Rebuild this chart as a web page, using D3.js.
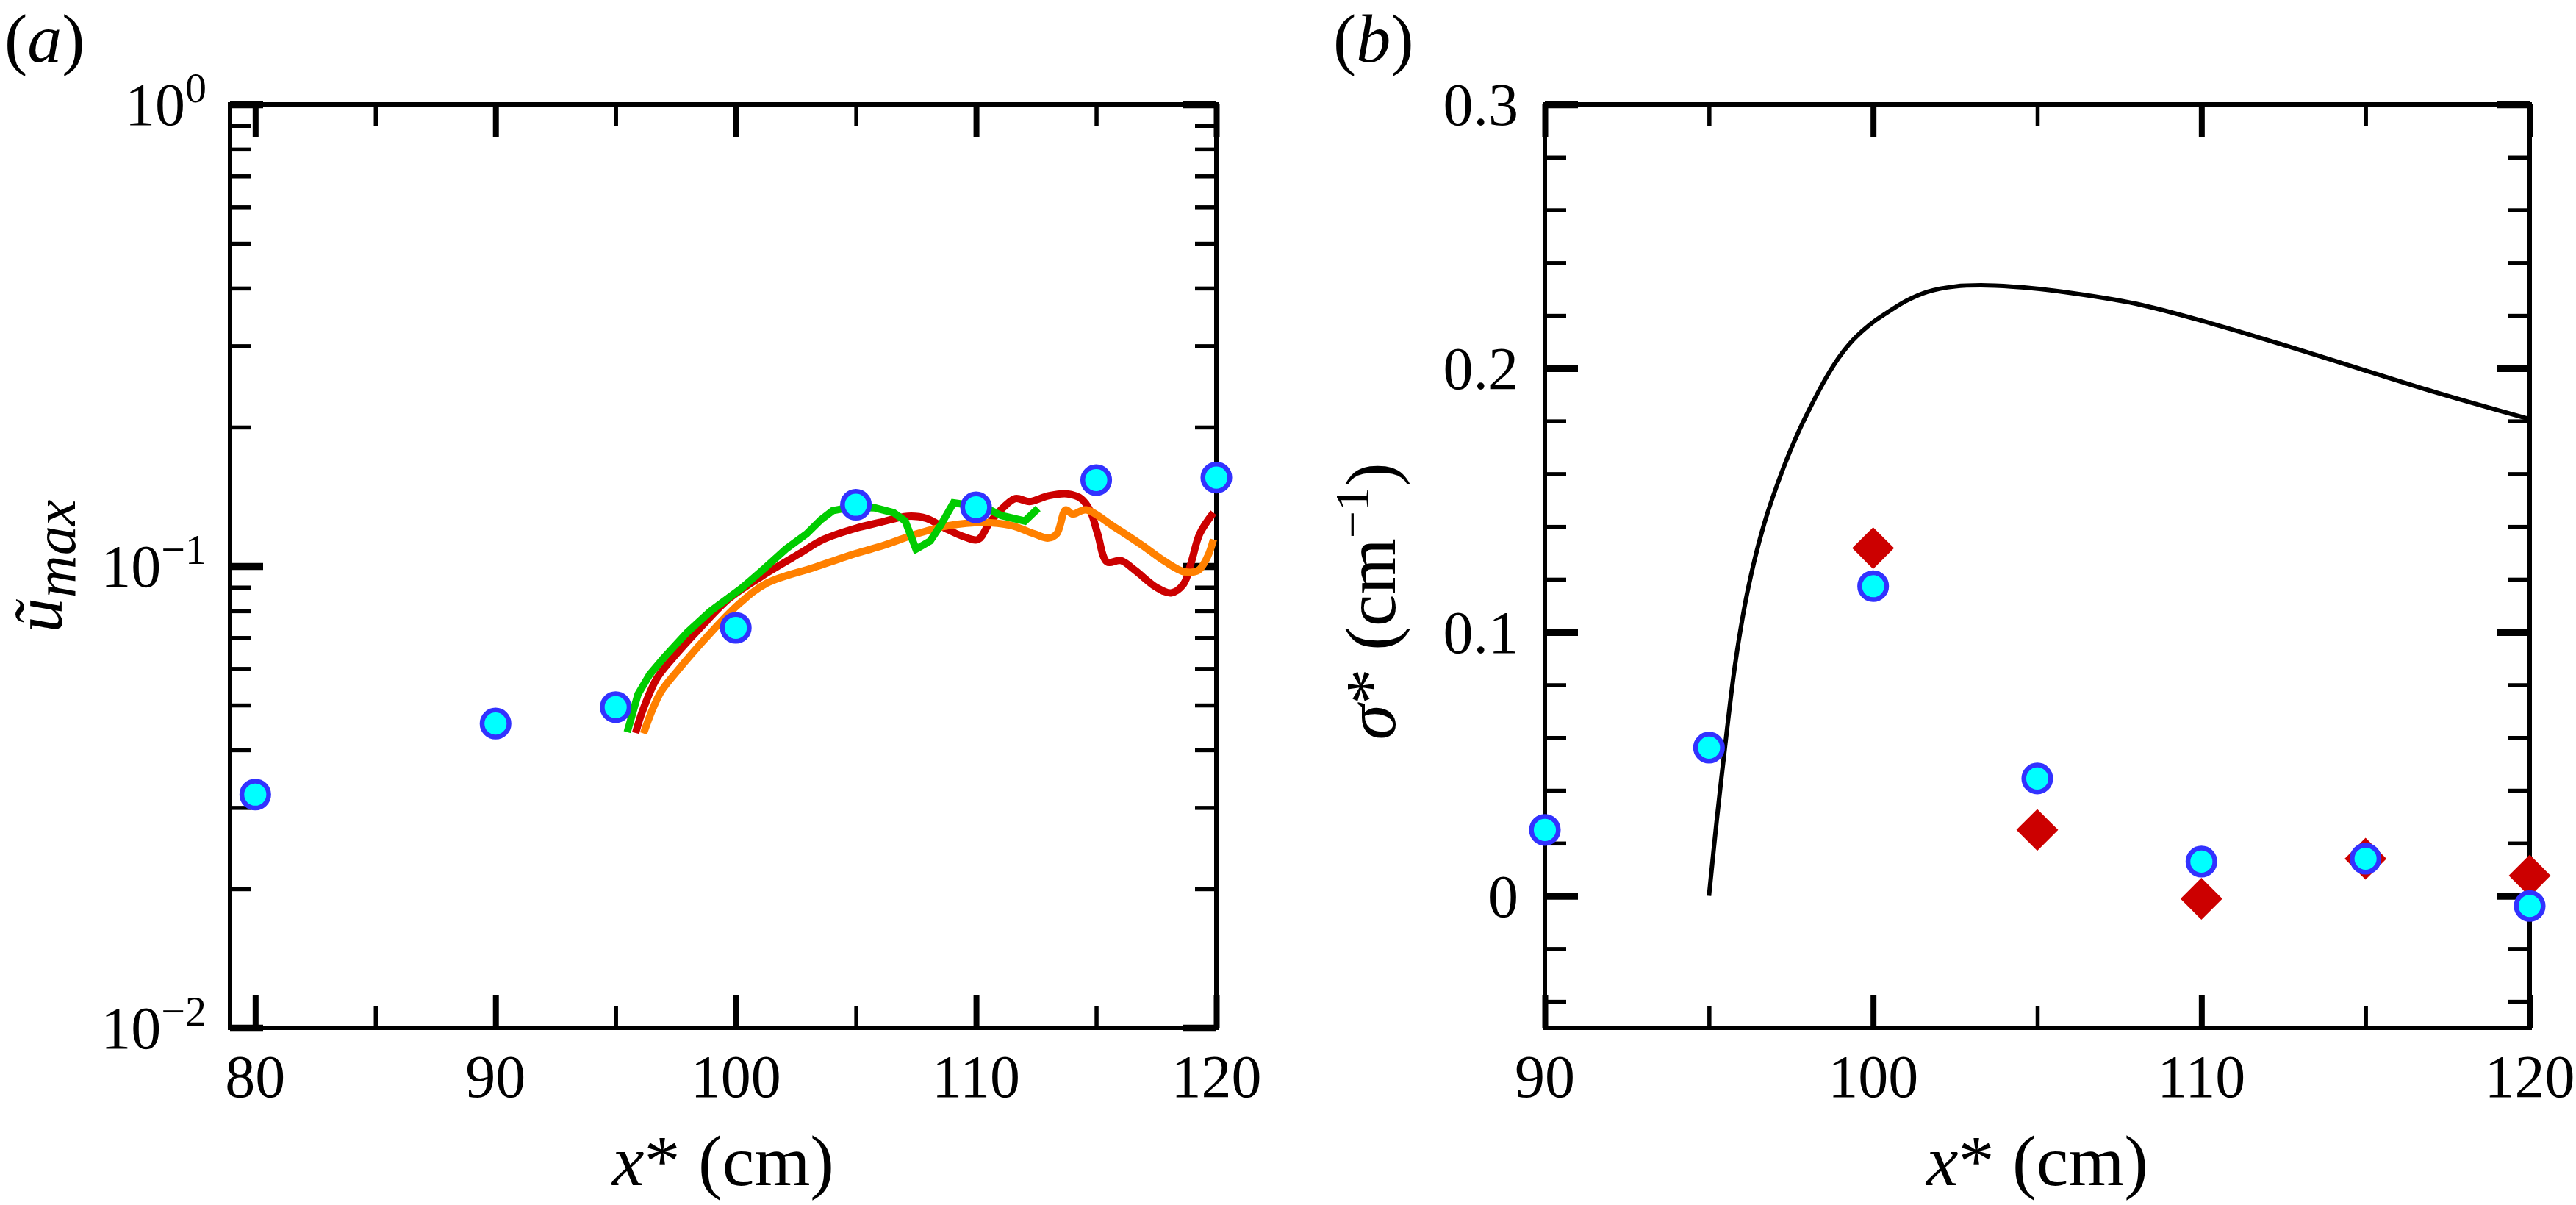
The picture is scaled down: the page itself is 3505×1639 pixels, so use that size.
<!DOCTYPE html>
<html><head><meta charset="utf-8">
<script src="https://cdn.jsdelivr.net/npm/d3@7"></script>
<style>
body{margin:0;background:#fff}
svg{display:block}
text{font-family:"Liberation Serif","Times New Roman",Times,serif;fill:#000}
</style>
</head><body>
<svg id="chart" width="3505" height="1639"></svg>
<script>
// ---------------- Panel (a) data ----------------
const stationXA = [80, 90, 95, 100, 105, 110, 115, 120];
const umaxMeasured = [0.0320, 0.0456, 0.0495, 0.0735, 0.1358, 0.1341, 0.1536, 0.1555];

const greenX = [95.48,95.93,96.42,97.00,97.98,98.95,100.22,101.10,102.08,102.95,103.54,104.03,104.81,105.79,106.57,107.05,107.50,108.09,108.52,109.06,109.88,110.57,111.05,112.03,112.58];
const greenY = [0.0437,0.0528,0.0583,0.0633,0.0719,0.0799,0.0894,0.0979,0.1088,0.1175,0.1260,0.1318,0.1342,0.1337,0.1305,0.1252,0.1088,0.1134,0.1225,0.1371,0.1352,0.1324,0.1287,0.1252,0.1333];

const redX = [95.83,96.12,96.71,97.39,98.56,99.73,101.10,102.66,103.64,105.00,105.98,107.15,107.93,108.71,109.49,110.08,110.57,111.15,111.64,112.23,113.01,113.79,114.37,114.76,115.06,115.45,116.03,116.62,117.50,118.12,118.63,118.96,119.31,119.88];
const redY = [0.0435,0.0486,0.0571,0.0633,0.0739,0.0851,0.0952,0.1065,0.1142,0.1208,0.1243,0.1282,0.1269,0.1208,0.1158,0.1142,0.1243,0.1342,0.1400,0.1380,0.1420,0.1434,0.1400,0.1314,0.1175,0.1021,0.1028,0.0979,0.0900,0.0875,0.0913,0.1021,0.1175,0.1305];

const orangeX = [96.16,96.51,96.90,97.59,98.76,100.12,101.30,103.25,105.00,106.18,107.54,108.91,110.27,111.45,112.42,113.01,113.36,113.73,114.02,114.57,115.74,116.91,117.89,118.67,119.25,119.64,119.88];
const orangeY = [0.0434,0.0486,0.0536,0.0595,0.0699,0.0827,0.0919,0.0993,0.1065,0.1110,0.1175,0.1225,0.1243,0.1225,0.1175,0.1150,0.1175,0.1324,0.1296,0.1324,0.1217,0.1110,0.1021,0.0972,0.0979,0.1050,0.1142];

const xMajorA = [80, 90, 100, 110, 120];
const xMinorA = [85, 95, 105, 115];
const xLabelsA = ["80", "90", "100", "110", "120"];
const yMajorA = [0.01, 0.1, 1];
const yMinorA = [0.02,0.03,0.04,0.05,0.06,0.07,0.08,0.09,0.2,0.3,0.4,0.5,0.6,0.7,0.8,0.9];
const yLabelExpA = ["\u22122", "\u22121", "0"];

// ---------------- Panel (b) data ----------------
const stationXB = [90, 95, 100, 105, 110, 115, 120];
const sigmaCircle = [0.025, 0.0562, 0.1174, 0.0445, 0.0130, 0.0141, -0.0038];
const diamondX = [100, 105, 110, 115, 120];
const sigmaDiamond = [0.1318, 0.0250, -0.0011, 0.0141, 0.0077];

const theoryX = [95.0,95.23,95.52,95.81,96.2,96.68,97.26,97.73,98.0,98.41,98.79,99.1,99.47,100.0,100.38,101.0,101.66,102.5,103.48,104.6,105.75,108.02,110.29,112.56,114.83,117.1,120.0];
const theoryY = [0.0,0.028,0.060,0.089,0.117,0.141,0.162,0.176,0.183,0.1929,0.2010,0.2065,0.2118,0.2175,0.2207,0.2255,0.2290,0.2310,0.2314,0.2306,0.2290,0.2244,0.2170,0.2086,0.1998,0.1910,0.1807];

const xMajorB = [90, 100, 110, 120];
const xMinorB = [95, 105, 115];
const xLabelsB = ["90", "100", "110", "120"];
const yMajorB = [0, 0.1, 0.2, 0.3];
const yLabelsB = ["0", "0.1", "0.2", "0.3"];
const yMinorB = [-0.04,-0.02,0.02,0.04,0.06,0.08,0.12,0.14,0.16,0.18,0.22,0.24,0.26,0.28];

// ---------------- Drawing ----------------
const FONT = '"Liberation Serif","Times New Roman",Times,serif';
const svg = d3.select("#chart").attr("font-family", FONT);
const TOP = 142, BOTTOM = 1398;
const TICK_FS = 82;

function drawTicks(g, scale, orient, pos, values, len, width) {
  const gen = {bottom: d3.axisBottom, top: d3.axisTop, left: d3.axisLeft, right: d3.axisRight}[orient];
  const ax = gen(scale).tickValues(values).tickSize(-len).tickSizeOuter(0).tickFormat("");
  const horiz = orient === "bottom" || orient === "top";
  const a = g.append("g")
    .attr("transform", horiz ? `translate(0,${pos})` : `translate(${pos},0)`)
    .call(ax);
  a.select(".domain").remove();
  a.selectAll(".tick text").remove();
  a.selectAll(".tick line").attr("stroke", "#000").attr("stroke-width", width);
}

function frame(g, x, y, xMaj, xMin, yMaj, yMin) {
  const [x0, x1] = x.range();
  const [y0, y1] = y.range(); // y0 bottom, y1 top
  drawTicks(g, x, "bottom", y0, xMaj, 45, 8);
  drawTicks(g, x, "top", y1, xMaj, 45, 8);
  drawTicks(g, x, "bottom", y0, xMin, 29, 5.5);
  drawTicks(g, x, "top", y1, xMin, 29, 5.5);
  drawTicks(g, y, "left", x0, yMaj, 45, 9.5);
  drawTicks(g, y, "right", x1, yMaj, 45, 9.5);
  drawTicks(g, y, "left", x0, yMin, 29, 5.5);
  drawTicks(g, y, "right", x1, yMin, 29, 5.5);
  g.append("rect").attr("x", x0).attr("y", y1).attr("width", x1 - x0).attr("height", y0 - y1)
    .attr("fill", "none").attr("stroke", "#000").attr("stroke-width", 6);
}

function circles(g, xs, ys, x, y) {
  g.append("g").selectAll("circle").data(xs).join("circle")
    .attr("cx", (d) => x(d)).attr("cy", (d, i) => y(ys[i]))
    .attr("r", 18.3).attr("fill", "#00ffff").attr("stroke", "#3232ff").attr("stroke-width", 6.5);
}

// ---- Panel (a) ----
const xA = d3.scaleLinear().domain([78.95, 120]).range([313, 1655]);
const yA = d3.scaleLog().domain([0.01, 1]).range([BOTTOM, TOP]);
const gA = svg.append("g");
frame(gA, xA, yA, xMajorA, xMinorA, yMajorA, yMinorA);

const lineA = (xs, ys, curve) => d3.line().x((d) => xA(d)).y((d, i) => yA(ys[i])).curve(curve)(xs);
gA.append("path").attr("d", lineA(redX, redY, d3.curveCatmullRom.alpha(0.5)))
  .attr("fill", "none").attr("stroke", "#cc0000").attr("stroke-width", 10).attr("stroke-linejoin", "round");
gA.append("path").attr("d", lineA(orangeX, orangeY, d3.curveCatmullRom.alpha(0.5)))
  .attr("fill", "none").attr("stroke", "#ff8000").attr("stroke-width", 10).attr("stroke-linejoin", "round");
gA.append("path").attr("d", lineA(greenX, greenY, d3.curveLinear))
  .attr("fill", "none").attr("stroke", "#00cc00").attr("stroke-width", 10).attr("stroke-linejoin", "miter");
circles(gA, stationXA, umaxMeasured, xA, yA);

// x tick labels
gA.append("g").selectAll("text").data(xMajorA).join("text")
  .attr("x", (d) => xA(d)).attr("y", 1492).attr("text-anchor", "middle")
  .attr("font-size", TICK_FS).text((d, i) => xLabelsA[i]);
// y tick labels 10^k
const yl = gA.append("g").selectAll("text").data(yMajorA).join("text")
  .attr("x", 281).attr("y", (d) => yA(d) + 28).attr("text-anchor", "end").attr("font-size", TICK_FS);
yl.append("tspan").text("10");
yl.append("tspan").attr("font-size", 58).attr("dy", -31).text((d, i) => yLabelExpA[i]);

// axis labels
const xlabA = gA.append("text").attr("x", (xA.range()[0] + xA.range()[1]) / 2).attr("y", 1612)
  .attr("text-anchor", "middle").attr("font-size", 98);
xlabA.append("tspan").attr("font-style", "italic").text("x");
xlabA.append("tspan").text("* (cm)");

const ylabA = gA.append("text").attr("transform", `translate(84,${(TOP + BOTTOM) / 2}) rotate(-90)`)
  .attr("text-anchor", "middle").attr("font-size", 94).attr("font-style", "italic");
ylabA.append("tspan").text("\u0169");
ylabA.append("tspan").attr("font-size", 80).attr("dy", 18).text("max");

const panA = svg.append("text").attr("x", 6).attr("y", 84).attr("font-size", 94);
panA.append("tspan").text("(");
panA.append("tspan").attr("font-style", "italic").text("a");
panA.append("tspan").text(")");

// ---- Panel (b) ----
const xB = d3.scaleLinear().domain([90, 120]).range([2102, 3442]);
const yB = d3.scaleLinear().domain([-0.05, 0.3]).range([BOTTOM, TOP]);
const gB = svg.append("g");
frame(gB, xB, yB, xMajorB, xMinorB, yMajorB, yMinorB);

gB.append("path")
  .attr("d", d3.line().x((d) => xB(d)).y((d, i) => yB(theoryY[i])).curve(d3.curveCatmullRom.alpha(0.5))(theoryX))
  .attr("fill", "none").attr("stroke", "#000").attr("stroke-width", 6);

gB.append("g").selectAll("path").data(diamondX).join("path")
  .attr("d", d3.symbol(d3.symbolSquare, 1620)())
  .attr("transform", (d, i) => `translate(${xB(d)},${yB(sigmaDiamond[i])}) rotate(45)`)
  .attr("fill", "#cc0000");
circles(gB, stationXB, sigmaCircle, xB, yB);

gB.append("g").selectAll("text").data(xMajorB).join("text")
  .attr("x", (d) => xB(d)).attr("y", 1492).attr("text-anchor", "middle")
  .attr("font-size", TICK_FS).text((d, i) => xLabelsB[i]);
gB.append("g").selectAll("text").data(yMajorB).join("text")
  .attr("x", 2066).attr("y", (d) => yB(d) + 28).attr("text-anchor", "end")
  .attr("font-size", TICK_FS).text((d, i) => yLabelsB[i]);

const xlabB = gB.append("text").attr("x", (xB.range()[0] + xB.range()[1]) / 2).attr("y", 1612)
  .attr("text-anchor", "middle").attr("font-size", 98);
xlabB.append("tspan").attr("font-style", "italic").text("x");
xlabB.append("tspan").text("* (cm)");

const ylabB = gB.append("text").attr("transform", `translate(1898,818) rotate(-90)`)
  .attr("text-anchor", "middle").attr("font-size", 98);
ylabB.append("tspan").attr("font-style", "italic").text("\u03C3");
ylabB.append("tspan").text("* (cm");
ylabB.append("tspan").attr("font-size", 66).attr("dy", -36).text("\u22121");
ylabB.append("tspan").attr("dy", 36).text(")");

const panB = svg.append("text").attr("x", 1814).attr("y", 84).attr("font-size", 94);
panB.append("tspan").text("(");
panB.append("tspan").attr("font-style", "italic").text("b");
panB.append("tspan").text(")");
</script>
</body></html>
